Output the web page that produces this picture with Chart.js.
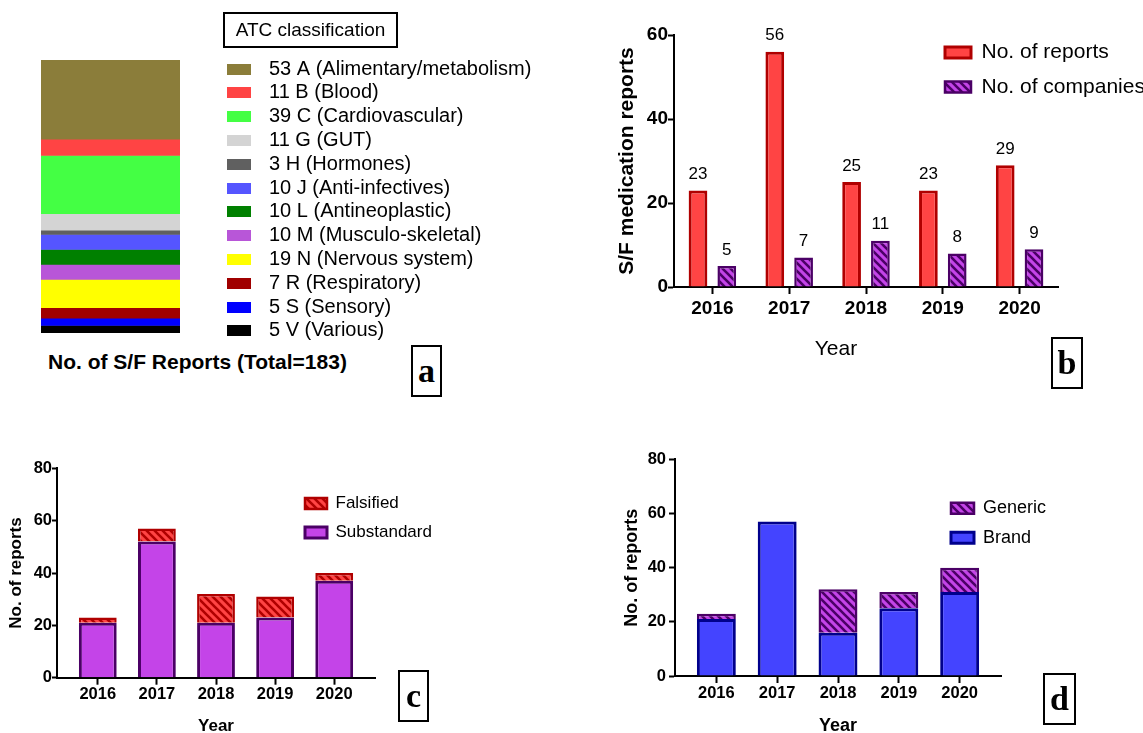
<!DOCTYPE html>
<html><head><meta charset="utf-8">
<script src="https://cdn.jsdelivr.net/npm/chart.js@4.4.1/dist/chart.umd.min.js"></script>
<style>
html,body{margin:0;padding:0;background:#fff;}
body{width:1143px;height:733px;overflow:hidden;position:relative;font-family:'Liberation Sans',Arial,sans-serif;color:#000;}
canvas{position:absolute;}
.box{position:absolute;border:2px solid #000;box-sizing:border-box;text-align:center;white-space:nowrap;}
.letter{font-family:'Liberation Serif','Times New Roman',serif;font-weight:bold;font-size:34px;line-height:48px;width:31px;height:52px;}
.txt{position:absolute;white-space:nowrap;}
</style></head><body>
<canvas id="ca" width="560" height="345" style="left:0;top:0"></canvas>
<canvas id="cb" width="553" height="400" style="left:590px;top:0"></canvas>
<canvas id="cc" width="560" height="300" style="left:0;top:440px"></canvas>
<canvas id="cd" width="553" height="300" style="left:590px;top:440px"></canvas>
<div class="box" style="left:223px;top:12px;width:175px;height:36px;font-size:19px;line-height:32px;">ATC classification</div>
<div class="txt" id="atot" style="left:48px;top:350px;font-weight:bold;font-size:21px;line-height:24px;"></div>
<div class="txt" style="left:786px;top:335px;width:100px;text-align:center;font-size:21px;line-height:26px">Year</div>
<div class="box letter" style="left:411px;top:345px;">a</div>
<div class="box letter" style="left:1051px;top:337px;width:32px;">b</div>
<div class="box letter" style="left:398px;top:670px;">c</div>
<div class="box letter" style="left:1043px;top:673px;width:33px;">d</div>
<script>
// ---- data ----
const atcCodes = ['A','B','C','G','H','J','L','M','N','R','S','V'];
const atcNames = ['Alimentary/metabolism','Blood','Cardiovascular','GUT','Hormones','Anti-infectives','Antineoplastic','Musculo-skeletal','Nervous system','Respiratory','Sensory','Various'];
const atcCounts = [53,11,39,11,3,10,10,10,19,7,5,5];
const years = [2016,2017,2018,2019,2020];
const reportsPerYear = [23,56,25,23,29];
const companiesPerYear = [5,7,11,8,9];
const substandard = [21,52,21,23,37];
const falsified = [2,5,11,8,3];
const brand = [21,57,16,25,31];
const generic = [2,0,16,6,9];
const yTicksB = [0,20,40,60];
const yTicksCD = [0,20,40,60,80];

// ---- styles ----
const atcColors = ['#8b7d3a','#ff4444','#44ff44','#d4d4d4','#606060','#5555ff','#008000','#b856d8','#ffff00','#a00000','#0000ff','#000000'];
const RED='#ff4444', DRED='#b00000', PURPLE='#c444e8', DPURPLE='#4b0066', BLUE='#4444ff', NAVY='#00008c';
const FONT = "'Liberation Sans', Arial, sans-serif";
Chart.defaults.font.family = FONT;
Chart.defaults.color = '#000';

function hatch(bg, fg){
  const c=document.createElement('canvas'); c.width=8; c.height=8;
  const x=c.getContext('2d'); x.fillStyle=bg; x.fillRect(0,0,8,8);
  x.strokeStyle=fg; x.lineWidth=2.6; x.beginPath();
  x.moveTo(-1,-1); x.lineTo(9,9); x.moveTo(-5,3); x.lineTo(5,13); x.moveTo(3,-5); x.lineTo(13,5); x.stroke();
  return x.createPattern(c,'repeat');
}
function swatch(col){
  const c=document.createElement('canvas'); c.width=32; c.height=11;
  const x=c.getContext('2d'); x.fillStyle=col; x.fillRect(0,0,24,11); return c;
}
const legendMover = {
  id:'legendMover',
  afterLayout(chart, args, opts){
    const lg = chart.legend; if(!lg || opts.x==null) return;
    const lo = lg.options.labels; const pad = lo.padding; const fs = lo.font.size;
    lg.left = opts.x - pad; lg.top = opts.y - fs/2 - pad;
    lg.right = chart.width; lg.bottom = chart.height;
    lg.width = lg.right - lg.left; lg.height = lg.bottom - lg.top;
  }
};
const valueLabels = {
  id:'valueLabels',
  afterDatasetsDraw(chart, args, opts){
    const ctx = chart.ctx; ctx.save();
    ctx.font = opts.font; ctx.fillStyle='#000'; ctx.textAlign='center'; ctx.textBaseline='middle';
    chart.data.datasets.forEach((ds,i)=>{
      chart.getDatasetMeta(i).data.forEach((el,j)=>{ ctx.fillText(String(ds.data[j]), el.x, el.y - opts.offset); });
    });
    ctx.restore();
  }
};
const axisTickGrid = (len)=>({display:true, offset:false, drawOnChartArea:false, drawTicks:true, tickLength:len, tickColor:'#000', tickWidth:2});
const axisBorder = {display:true, color:'#000', width:2};

// ---- panel a ----
const total = atcCounts.reduce((a,b)=>a+b,0);
document.getElementById('atot').textContent = 'No. of S/F Reports (Total=' + total + ')';
const swatches = atcColors.map(swatch);
new Chart(document.getElementById('ca'), {
  type:'bar',
  data:{ labels:['ATC'], datasets: atcCodes.map((code,i)=>({ label: atcCounts[i]+' '+code+' ('+atcNames[i]+')', data:[atcCounts[i]], backgroundColor: atcColors[i], borderWidth:0 })) },
  options:{ responsive:false, animation:false, devicePixelRatio:1,
    layout:{padding:{left:41,right:380,top:60,bottom:12}},
    datasets:{bar:{barPercentage:1,categoryPercentage:1}},
    scales:{ x:{display:false,stacked:true}, y:{display:false,stacked:true,reverse:true,min:0,max:total} },
    plugins:{ tooltip:{enabled:false},
      legend:{position:'chartArea', align:'start', labels:{font:{size:20}, color:'#000', padding:3.8, usePointStyle:true, pointStyleWidth:32,
        generateLabels(chart){ const items = Chart.defaults.plugins.legend.labels.generateLabels(chart); items.forEach((it,i)=>{ it.pointStyle = swatches[i]; it.lineWidth = 0; }); return items; } }},
      legendMover:{x:227, y:69} } },
  plugins:[legendMover]
});

// ---- panel b ----
new Chart(document.getElementById('cb'), {
  type:'bar',
  data:{ labels: years.map(String), datasets:[
    {label:'No. of reports', data: reportsPerYear, backgroundColor: RED, borderColor: DRED, borderWidth:3},
    {label:'No. of companies', data: companiesPerYear, backgroundColor: hatch(PURPLE, DPURPLE), borderColor: DPURPLE, borderWidth:2.5}
  ]},
  options:{ responsive:false, animation:false, devicePixelRatio:1,
    layout:{padding:{left:0,right:85,top:35,bottom:0}},
    datasets:{bar:{categoryPercentage:0.75, barPercentage:0.65}},
    scales:{
      x:{ offset:true, grid:axisTickGrid(7), border:axisBorder,
          ticks:{font:{size:19,weight:'bold'}, color:'#000', padding:3, maxRotation:0},
          afterFit(s){ s.height = 113; } },
      y:{ min:yTicksB[0], max:yTicksB[yTicksB.length-1], grid:axisTickGrid(6), border:axisBorder,
          ticks:{stepSize:20, font:{size:19,weight:'bold'}, color:'#000', padding:0},
          afterBuildTicks(s){ s.ticks = yTicksB.map(v=>({value:v})); },
          title:{display:true, text:'S/F medication reports', font:{size:21,weight:'bold'}, color:'#000', padding:{top:24.6,bottom:0}},
          afterFit(s){ s.width = 84; } }
    },
    plugins:{ tooltip:{enabled:false},
      legend:{position:'chartArea', align:'start', labels:{font:{size:21}, color:'#000', boxWidth:26, boxHeight:11, padding:13.5}},
      legendMover:{x:355, y:52.5},
      valueLabels:{font:"17px 'Liberation Sans', Arial, sans-serif", offset:16} } },
  plugins:[legendMover, valueLabels]
});

// ---- panels c and d ----
function stackedChart(id, cfg){
  return new Chart(document.getElementById(id), {
    type:'bar',
    data:{ datasets:[
      {label:cfg.bottomLabel, data: years.map((y,i)=>({x:y, y:cfg.bottom[i]})), backgroundColor: cfg.bottomColor, borderColor: cfg.bottomBorder, borderWidth:3},
      {label:cfg.topLabel, data: years.map((y,i)=>({x:y, y:cfg.top[i]})), backgroundColor: cfg.topColor, borderColor: cfg.topBorder, borderWidth:2.5}
    ]},
    options:{ responsive:false, animation:false, devicePixelRatio:1,
      layout:{padding:{left:0,right:cfg.padRight,top:cfg.padTop,bottom:0}},
      datasets:{bar:{categoryPercentage:0.8, barPercentage:0.8}},
      scales:{
        x:{ type:'linear', stacked:true, offset:false, min:years[0]-cfg.edge, max:years[years.length-1]+cfg.edge,
            grid:axisTickGrid(7), border:axisBorder,
            ticks:{font:{size:16.5,weight:'bold'}, color:'#000', padding:cfg.xPad, maxRotation:0, callback:v=>String(v)},
            afterBuildTicks(s){ s.ticks = years.map(v=>({value:v})); },
            title:{display:true, text:'Year', font:{size:cfg.titleSize,weight:'bold'}, color:'#000', padding:{top:0,bottom:cfg.xTitlePad}},
            afterFit(s){ s.height = cfg.xHeight; } },
        y:{ stacked:true, min:yTicksCD[0], max:yTicksCD[yTicksCD.length-1], grid:axisTickGrid(cfg.yTick), border:axisBorder,
            ticks:{stepSize:20, font:{size:16.5,weight:'bold'}, color:'#000', padding:cfg.yPad},
            afterBuildTicks(s){ s.ticks = yTicksCD.map(v=>({value:v})); },
            title:{display:true, text:'No. of reports', font:{size:cfg.titleSize,weight:'bold'}, color:'#000', padding:{top:cfg.yTitlePad,bottom:0}},
            afterFit(s){ s.width = cfg.yWidth; } }
      },
      plugins:{ tooltip:{enabled:false},
        legend:{position:'chartArea', align:'start', reverse:true, labels:{font:{size:cfg.legendSize}, color:'#000', boxWidth:cfg.boxW, boxHeight:11, padding:cfg.legendPad}},
        legendMover:{x:cfg.legX, y:cfg.legY} } },
    plugins:[legendMover]
  });
}
stackedChart('cc', {bottomLabel:'Substandard', bottom:substandard, bottomColor:PURPLE, bottomBorder:DPURPLE,
  topLabel:'Falsified', top:falsified, topColor:hatch(RED, DRED), topBorder:DRED,
  padRight:185, padTop:28.3, edge:0.69, xPad:0, xTitlePad:3.8, xHeight:62.3, yTick:5, yPad:0, yTitlePad:6, yWidth:57,
  titleSize:17, legendSize:17, boxW:22, legendPad:12, legX:305, legY:63.5});
stackedChart('cd', {bottomLabel:'Brand', bottom:brand, bottomColor:BLUE, bottomBorder:NAVY,
  topLabel:'Generic', top:generic, topColor:hatch(PURPLE, DPURPLE), topBorder:DPURPLE,
  padRight:142, padTop:19.3, edge:0.68, xPad:1, xTitlePad:3.2, xHeight:64, yTick:6, yPad:3, yTitlePad:31, yWidth:85,
  titleSize:18, legendSize:18, boxW:23, legendPad:11.5, legX:361, legY:68.3});
</script>
</body></html>
